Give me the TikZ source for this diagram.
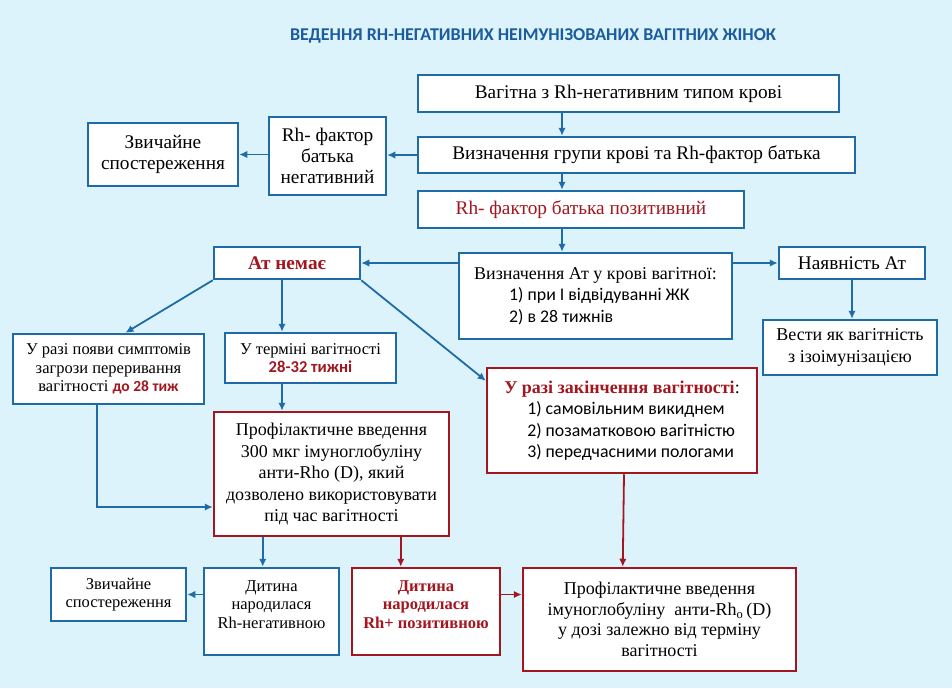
\documentclass[tikz,border=0pt]{standalone}
\usepackage{fontspec}
\setmainfont{Liberation Serif}
\newfontfamily\calib{Carlito}
\usetikzlibrary{arrows, arrows.meta, calc, positioning}
\definecolor{bgblue}{HTML}{DDF3FB}
\definecolor{lineblue}{HTML}{1F6BA8}
\definecolor{darkred}{HTML}{A3161F}
\definecolor{titleblue}{HTML}{1B5C9E}
\tikzstyle{block} = [rectangle, line width=2.5pt, draw=lineblue, fill=white, align=center, inner sep=2pt, font=\fontsize{18}{21.5}\selectfont]
\tikzstyle{redblock} = [block, draw=darkred]
\tikzstyle{bigfont} = [font=\fontsize{19.3}{21}\selectfont]
\tikzstyle{smallfont} = [font=\fontsize{16.5}{18.5}\selectfont]
\tikzstyle{arrow} = [line width=1.8pt, draw=lineblue, ->, >={Latex[length=8pt,width=7.5pt]}]
\tikzstyle{redarrow} = [arrow, draw=darkred]
\newcommand{\redtext}[1]{{\color{darkred}#1}}
\newcommand{\sanstext}[2][17.8]{{\calib\fontsize{#1}{20}\selectfont #2}}
\begin{document}
\begin{tikzpicture}[x=1pt, y=-1pt]
		\fill[bgblue] (0,0) rectangle (952,688);
		\useasboundingbox (0,0) rectangle (952,688);
		\node (Title) at (533,36) {\calib\bfseries\fontsize{18}{20}\selectfont\color{titleblue}ВЕДЕННЯ RH-НЕГАТИВНИХ НЕІМУНІЗОВАНИХ ВАГІТНИХ ЖІНОК};
		
		\node (Pregnant) [block, bigfont, minimum width=421, minimum height=37] at (628.5,93.5) {Вагітна з Rh-негативним типом крові};
		\node (BloodGroup) [block, bigfont, minimum width=437, minimum height=36] at (636.5,155) {Визначення групи крові та Rh-фактор батька};
		\node (FatherPos) [block, bigfont, minimum width=326, minimum height=37] at (581,209.5) {\redtext{Rh- фактор батька позитивний}};
		\node (FatherNeg) [block, bigfont, minimum width=117, minimum height=78] at (327.5,156) {Rh- фактор\\батька\\негативний};
		\node (Usual1) [block, bigfont, minimum width=150, minimum height=63] at (163,154.5) {Звичайне\\спостереження};
		
		\node (NoAt) [block, bigfont, minimum width=146, minimum height=32] at (287,263) {\redtext{\bfseries Ат немає}};
		\node (AtTest) [block, minimum width=273, minimum height=86, align=left] at (595.5,296) {Визначення Ат у крові вагітної:\\
			\hspace*{35pt}\sanstext{1) при І відвідуванні ЖК}\\
			\hspace*{35pt}\sanstext{2) в 28 тижнів}};
		\node (AtYes) [block, bigfont, minimum width=146, minimum height=32] at (852,263) {Наявність Ат};
		\node (Iso) [block, minimum width=174, minimum height=55] at (850,347.5) {Вести як вагітність\\з ізоімунізацією};
		
		\node (Threat) [block, smallfont, minimum width=191, minimum height=70] at (108.5,369) {У разі появи симптомів\\загрози переривання\\вагітності \sanstext[15.5]{\bfseries\redtext{до 28 тиж}}};
		\node (Term) [block, smallfont, minimum width=171, minimum height=50] at (310.5,358) {У терміні вагітності\\\sanstext[16.6]{\bfseries\redtext{28-32 тижні}}};
		\node (End) [redblock, minimum width=270, minimum height=105, align=left] at (622,420.5) {\redtext{\bfseries У разі закінчення вагітності}:\\
			\hspace*{23pt}\sanstext{1) самовільним викиднем}\\
			\hspace*{23pt}\sanstext{2) позаматковою вагітністю}\\
			\hspace*{23pt}\sanstext{3) передчасними пологами}};
		\node (Prophylaxis) [redblock, minimum width=235, minimum height=124] at (331.5,474) {Профілактичне введення\\300 мкг імуноглобуліну\\анти-Rho (D), який\\дозволено використовувати\\під час вагітності};
		
		\node (Usual2) [block, smallfont, minimum width=135, minimum height=53] at (118.5,594.5) {Звичайне\\спостереження};
		\node (ChildNeg) [block, smallfont, minimum width=135, minimum height=87] at (271.5,611.5) {Дитина\\народилася\\Rh-негативною\\[-4.5pt]};
		\node (ChildPos) [redblock, smallfont, minimum width=148, minimum height=87] at (426,611.5) {\redtext{\bfseries Дитина}\\\redtext{\bfseries народилася}\\\redtext{\bfseries Rh+ позитивною}\\[-4.5pt]};
		\node (ProphylaxisDose) [redblock, font=\fontsize{18}{20.5}\selectfont, minimum width=273, minimum height=103] at (659.5,619.5) {Профілактичне введення\\імуноглобуліну \ анти-Rh\textsubscript{o}\,(D)\\у дозі залежно від терміну\\вагітності};
		
		\coordinate (Spine) at (562,0);
		\coordinate (TermLine) at (282,0);
		\coordinate (ThreatLine) at (97,0);
		
		\draw [arrow] (Pregnant.south -| Spine) -- (BloodGroup.north -| Spine);
		\draw [arrow] (BloodGroup.south -| Spine) -- (FatherPos.north -| Spine);
		\draw [arrow] (FatherPos.south -| Spine) -- (AtTest.north -| Spine);
		\draw [arrow] (BloodGroup.west) -- (FatherNeg.east |- BloodGroup.west);
		\draw [arrow] (FatherNeg.west |- Usual1) -- (Usual1.east);
		\draw [arrow] (AtTest.west |- NoAt) -- (NoAt.east);
		\draw [arrow] (AtTest.east |- AtYes) -- (AtYes.west);
		\draw [arrow] (AtYes.south) -- (Iso.north -| AtYes.south);
		
		\draw [arrow] (NoAt.south west) -- ($(Threat.north)+(17,0)$);
		\draw [arrow] (NoAt.south -| TermLine) -- (Term.north -| TermLine);
		\draw [arrow] (NoAt.south east) -- ($(End.north west)+(0,14)$);
		\draw [arrow] (Term.south -| TermLine) -- (Prophylaxis.north -| TermLine);
		\draw [arrow] (Threat.south -| ThreatLine) |- ($(Prophylaxis.west)+(0,33)$);
		
		\draw [arrow] ($(Prophylaxis.south west)+(50,0)$) -- ($(ChildNeg.north west)+(60,0)$);
		\draw [redarrow] ($(Prophylaxis.south west)+(188,0)$) -- ($(ChildPos.north west)+(50,0)$);
		\draw [arrow] (ChildNeg.west |- Usual2) -- (Usual2.east);
		\draw [redarrow] (ChildPos.east |- Usual2) -- (ProphylaxisDose.west |- Usual2);
		\draw [redarrow] ($(End.south)+(2,0)$) -- ($(ProphylaxisDose.north west)+(101,0)$);
		\end{tikzpicture}
\end{document}
